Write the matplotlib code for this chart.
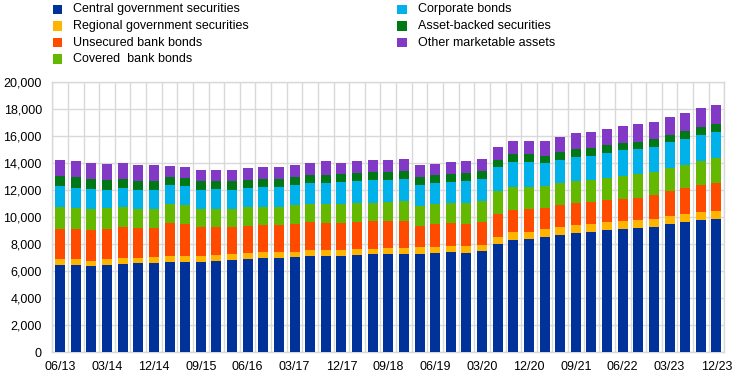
import matplotlib
matplotlib.use("Agg")
import matplotlib.pyplot as plt
from matplotlib.patches import Rectangle
import numpy as np

plt.rcParams['font.family'] = ['Liberation Sans', 'DejaVu Sans']

tick_labels = ["06/13", "03/14", "12/14", "09/15", "06/16", "03/17", "12/17", "09/18",
               "06/19", "03/20", "12/20", "09/21", "06/22", "03/23", "12/23"]

series_names = ["Central government securities", "Regional government securities",
                "Unsecured bank bonds", "Covered  bank bonds", "Corporate bonds",
                "Asset-backed securities", "Other marketable assets"]
colors = ["#003299", "#FFB400", "#FF4B00", "#65B800", "#00B1EA", "#007816", "#8139C6"]

central = [6440, 6440, 6370, 6440, 6520, 6590, 6590, 6670, 6670, 6670, 6740, 6810, 6890, 6960,
           6960, 7040, 7110, 7110, 7110, 7190, 7260, 7260, 7260, 7260, 7330, 7410, 7330, 7480,
           8000, 8300, 8370, 8520, 8670, 8810, 8890, 9040, 9110, 9190, 9260, 9480, 9630, 9780, 9850]
regional = [450, 450, 370, 450, 440, 370, 450, 440, 440, 440, 450, 450, 440, 450,
            450, 370, 450, 450, 450, 440, 370, 440, 440, 520, 450, 440, 520, 450,
            520, 590, 520, 590, 590, 600, 590, 590, 590, 590, 590, 590, 590, 590, 590]
unsecured = [2220, 2220, 2300, 2220, 2300, 2230, 2150, 2450, 2370, 2150, 2070, 2000, 2030, 2000,
             2000, 2100, 2090, 2000, 2000, 2020, 2070, 2000, 2000, 1550, 1730, 1710, 1660, 1720,
             1700, 1630, 1730, 1560, 1650, 1650, 1630, 1630, 1660, 1630, 1800, 1880, 1930, 2030, 2100]
covered = [1630, 1580, 1550, 1580, 1480, 1400, 1400, 1430, 1410, 1330, 1330, 1330, 1380, 1330,
           1330, 1380, 1340, 1430, 1430, 1390, 1340, 1440, 1490, 1510, 1480, 1480, 1530, 1540,
           1730, 1730, 1630, 1630, 1630, 1630, 1630, 1630, 1680, 1780, 1680, 1680, 1730, 1770, 1830]
corporate = [1580, 1480, 1480, 1310, 1410, 1410, 1410, 1380, 1410, 1410, 1480, 1410, 1410, 1480,
             1480, 1480, 1530, 1530, 1600, 1630, 1700, 1600, 1620, 1530, 1530, 1550, 1630, 1620,
             1750, 1820, 1820, 1700, 1680, 1750, 1780, 1850, 1920, 1850, 1860, 1930, 1900, 1900, 1930]
abs_sec = [740, 790, 740, 740, 660, 670, 670, 590, 590, 670, 600, 670, 590, 590,
           590, 590, 590, 590, 600, 590, 590, 590, 600, 590, 590, 600, 590, 600,
           520, 600, 600, 520, 590, 600, 590, 590, 520, 520, 590, 510, 590, 600, 590]
other = [1160, 1190, 1190, 1190, 1190, 1180, 1180, 820, 810, 810, 810, 810, 890, 890,
         890, 890, 890, 1040, 810, 890, 890, 890, 890, 890, 820, 880, 890, 890,
         970, 960, 960, 1110, 1120, 1180, 1190, 1190, 1260, 1330, 1260, 1340, 1330, 1400, 1410]

data = [central, regional, unsecured, covered, corporate, abs_sec, other]

W, H = 745, 379
fig = plt.figure(figsize=(W / 100, H / 100), dpi=100)
ax_l, ax_r, ax_t, ax_b = 52.3, 724.3, 82.3, 352.3
ax = fig.add_axes([ax_l / W, (H - ax_b) / H, (ax_r - ax_l) / W, (ax_b - ax_t) / H])

n = len(central)
x = np.arange(n)
bottom = np.zeros(n)
for vals, col, name in zip(data, colors, series_names):
    v = np.array(vals, dtype=float)
    ax.bar(x, v, bottom=bottom, width=0.64, color=col, label=name, zorder=3, linewidth=0)
    bottom += v

grid_col = "#d9d9d9"
ax.set_xlim(-0.5, n - 0.5)
ax.set_ylim(0, 20000)
ax.set_yticks(np.arange(0, 20001, 2000))
ax.set_yticklabels([f"{v:,}" for v in range(0, 20001, 2000)])
ax.set_xticks(x[::3])
ax.set_xticklabels(tick_labels)
ax.set_xticks(np.arange(-0.5, n, 1.0), minor=True)
ax.grid(axis='y', which='major', color=grid_col, linewidth=1.0, zorder=0)
ax.grid(axis='x', which='minor', color=grid_col, linewidth=1.0, zorder=0)
ax.grid(axis='x', which='major', visible=False)
ax.tick_params(axis='both', which='both', length=0, labelsize=9, colors='black')
ax.tick_params(axis='y', pad=7.5)
ax.tick_params(axis='x', pad=6)
for s in ['left', 'bottom', 'right', 'top']:
    ax.spines[s].set_color(grid_col)
    ax.spines[s].set_linewidth(1.0)
ax.spines['top'].set_zorder(0)

# legend (manual, two columns)
col_x = [52.5, 397.5]
row_y = [9.3, 25.8, 42.5, 59.2]
positions = [(0, 0), (0, 1), (0, 2), (0, 3), (1, 0), (1, 1), (1, 2)]
sq = 9.5
for (c, r), col, name in zip(positions, colors, series_names):
    mx, my = col_x[c], row_y[r]
    fig.add_artist(Rectangle((mx / W, (H - my - sq / 2) / H), sq / W, sq / H,
                             transform=fig.transFigure, facecolor=col, edgecolor='none'))
    fig.text((mx + 20.5) / W, (H - my) / H, name, fontsize=9, va='center', ha='left')

fig.savefig("out.png", dpi=100)
